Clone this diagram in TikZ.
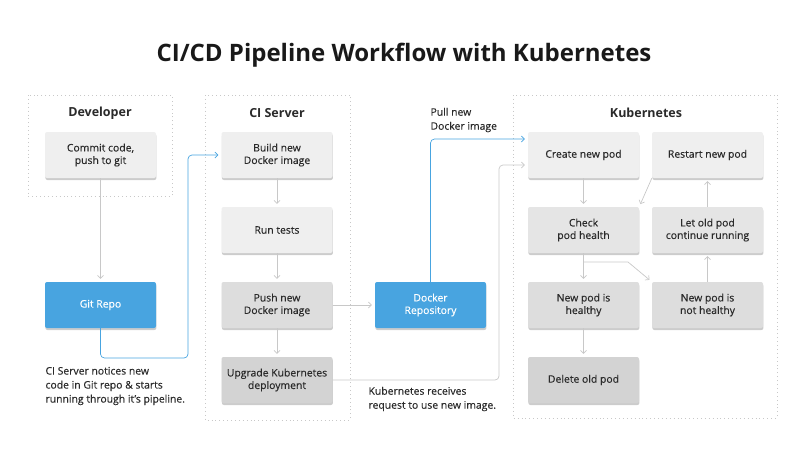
\documentclass[tikz,border=0pt]{standalone}
\usepackage{fontspec}
\setmainfont{Open Sans}
\newfontfamily\medfont{Open Sans}[FakeBold=0.35]
\usetikzlibrary{shadows,arrows.meta}

\definecolor{boxA}{HTML}{EFEFEF}
\definecolor{boxB}{HTML}{E5E5E5}
\definecolor{boxC}{HTML}{DDDDDD}
\definecolor{boxD}{HTML}{D3D3D3}
\definecolor{blueA}{HTML}{48A4E0}
\definecolor{lineA}{HTML}{C8C8C8}
\definecolor{inkA}{HTML}{2A2A2A}

\begin{document}
\begin{tikzpicture}[x=1pt,y=-1pt,
    panel/.style={draw=lineA,line width=0.9pt,dash pattern=on 0.9pt off 3pt},
    head/.style={font=\fontsize{12.5}{14}\selectfont\bfseries,text=inkA},
    stage/.style={rounded corners=2pt,minimum width=111pt,minimum height=46pt,
        align=center,inner sep=2pt,font=\fontsize{10.4}{12.5}\selectfont\medfont,text=inkA,
        drop shadow={shadow xshift=0.4pt,shadow yshift=-2pt,opacity=0.4}},
    repo/.style={stage,fill=blueA,text=white},
    note/.style={align=left,anchor=west,font=\fontsize{10.4}{14}\selectfont\medfont,text=inkA},
    flow/.style={draw=lineA,line width=0.7pt,-{Straight Barb[length=3pt,width=6pt]},shorten >=3pt},
    blueflow/.style={flow,draw=blueA,rounded corners=4pt}]

    \useasboundingbox (0,0) rectangle (800,475);

    \node[font=\fontsize{24}{28}\selectfont\bfseries,text=black!90] (title) at (404,55) {CI/CD Pipeline Workflow with Kubernetes};

    % panels
    \draw[panel] (28,95) rectangle (172,196);
    \draw[panel] (205,95) rectangle (350,420);
    \draw[panel] (513,95) rectangle (777,418);
    \node[head] (devhead) at (100,113) {Developer};
    \node[head] (cihead) at (277,113) {CI Server};
    \node[head] (k8shead) at (646,113) {Kubernetes};

    % developer
    \node[stage,fill=boxA] (commit) at (100.5,155) {Commit code,\\push to git};
    \node[repo] (git) at (100.5,305) {Git Repo};

    % ci server
    \node[stage,fill=boxA] (build) at (277,155) {Build new\\Docker image};
    \node[stage,fill=boxA] (tests) at (277,230) {Run tests};
    \node[stage,fill=boxC] (push) at (277,305) {Push new\\Docker image};
    \node[stage,fill=boxD] (upgrade) at (277,380) {Upgrade Kubernetes\\deployment};

    \node[repo] (docker) at (430.5,305) {Docker\\Repository};

    % kubernetes
    \node[stage,fill=boxA] (create) at (583.5,155) {Create new pod};
    \node[stage,fill=boxA] (restart) at (707.5,155) {Restart new pod};
    \node[stage,fill=boxB] (check) at (583.5,230) {Check\\pod health};
    \node[stage,fill=boxB] (letold) at (707.5,230) {Let old pod\\continue running};
    \node[stage,fill=boxC] (healthy) at (583.5,305) {New pod is\\healthy};
    \node[stage,fill=boxC] (nothealthy) at (707.5,305) {New pod is\\not healthy};
    \node[stage,fill=boxD] (delete) at (583.5,380) {Delete old pod};

    % notes
    \node[note] (notice) at (42,386) {CI Server notices new\\code in Git repo \& starts\\running through it’s pipeline.};
    \node[note] (pull) at (427,120) {Pull new\\Docker image};
    \node[note] (receives) at (365,399) {Kubernetes receives\\request to use new image.};

    \coordinate (gitturn) at (188,358);
    \coordinate (upturn) at (499,165);
    \coordinate (checkturn) at (628,262);

    \draw[flow] (commit) -- (git);
    \draw[blueflow] (git.south) |- (gitturn) |- (build.west);
    \draw[flow] (build) -- (tests);
    \draw[flow] (tests) -- (push);
    \draw[flow] (push) -- (upgrade);
    \draw[flow] (push) -- (docker);
    \draw[blueflow] (docker.north) |- ([yshift=16pt]create.west);
    \draw[flow,rounded corners=4pt] (upgrade.east) -| (upturn) -- ([yshift=-10pt]create.west);

    \draw[flow] (create) -- (check);
    \draw[flow] (check) -- (healthy);
    \draw[flow] (check.south) |- (checkturn) -- (nothealthy.north west);
    \draw[flow] (healthy) -- (delete);
    \draw[flow] (nothealthy) -- (letold);
    \draw[flow] (letold) -- (restart);
    \draw[flow] (restart.south west) -- (check.north east);
\end{tikzpicture}
\end{document}
